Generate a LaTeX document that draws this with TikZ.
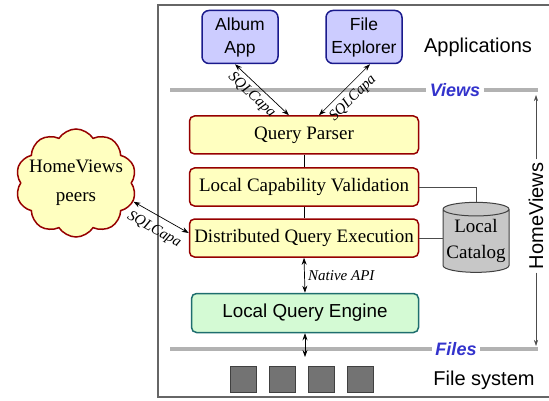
\documentclass[tikz,border=0pt]{standalone}
\usepackage{fontspec}
\setmainfont{Liberation Serif}
\setsansfont{Liberation Sans}
\usetikzlibrary{arrows.meta,shapes.symbols,shapes.geometric}

\definecolor{appfill}{RGB}{204,204,255}
\definecolor{appline}{RGB}{26,26,140}
\definecolor{qfill}{RGB}{255,255,192}
\definecolor{qline}{RGB}{150,0,0}
\definecolor{efill}{RGB}{212,250,212}
\definecolor{eline}{RGB}{30,110,110}
\definecolor{layerblue}{RGB}{51,51,204}

\begin{document}
\begin{tikzpicture}[x=1pt,y=-1pt,
	appbox/.style={draw=appline,fill=appfill,line width=1.5pt,rounded corners=7pt,minimum width=76pt,minimum height=53pt,inner sep=0pt,align=center,font=\sffamily\fontsize{17.5}{23}\selectfont},
	qbox/.style={draw=qline,fill=qfill,line width=1.5pt,rounded corners=5pt,minimum width=229pt,minimum height=38pt,inner sep=0pt,font=\fontsize{19}{22}\selectfont},
	layer/.style={draw=black!30,line width=4pt},
	layername/.style={text=layerblue,font=\sffamily\bfseries\itshape\fontsize{18}{20}\selectfont},
	side/.style={font=\sffamily\fontsize{20}{22}\selectfont},
	api/.style={font=\itshape\fontsize{15}{17}\selectfont},
	link/.style={{Stealth[length=7pt,width=5pt]}-{Stealth[length=7pt,width=5pt]},line width=0.7pt}]
			\useasboundingbox (0,0) rectangle (549,401);
			\draw[black!60,line width=1.3pt] (549,5) -- (158,5) -- (158,397) -- (549,397);
			% applications
			\node[appbox] (album) at (240,37) {Album\\App};
			\node[appbox] (explorer) at (364,37) {File\\Explorer};
			\node[side] (apps) at (478,47) {Applications};
			% views layer
			\node[layername] (views) at (455,90) {Views};
			\draw[layer] (170,90) -- (views.west);
			\draw[layer] (views.east) -- (538,90);
			% query stack
			\node[qbox] (parser) at (304,135) {Query Parser};
			\node[qbox] (validation) at (304,187) {Local Capability Validation};
			\node[qbox] (execution) at (304,238) {Distributed Query Execution};
			\draw[line width=0.8pt] (parser) -- (validation);
			\draw[line width=0.8pt] (validation) -- (execution);
			\node[cylinder,shape border rotate=90,aspect=0.23,draw=black!75,fill=black!22,line width=1pt,minimum width=66pt,minimum height=70pt,inner sep=0pt,align=center,font=\fontsize{19}{26}\selectfont] (catalog) at (476,241) {Local\\Catalog};
			\draw[black!70,line width=0.8pt] (validation.east) -| (catalog.north);
			\draw[black!70,line width=0.8pt] (execution.east) -- (catalog.west |- execution.east);
			\draw[link] ([xshift=-5pt]album.south) -- node[api,sloped,below=1pt,pos=0.45]{SQLCapa} ([xshift=-15pt]parser.north);
			\draw[link] ([xshift=15pt]parser.north) -- node[api,sloped,below=2pt,pos=0.5]{SQLCapa} ([xshift=6pt]explorer.south);
			% peers
			\node[cloud,cloud puffs=10,cloud puff arc=115,aspect=1.15,draw=qline,fill=qfill,line width=1.5pt,minimum width=121pt,minimum height=108pt,inner sep=0pt] (peers) at (76,183) {};
			\node[align=center,font=\fontsize{19}{29}\selectfont] (peerstext) at (peers.center) {HomeViews\\peers};
			\draw[link] (peers.-18) -- node[api,sloped,below=4pt]{SQLCapa} ([yshift=5pt]execution.west);
			% engine
			\node[qbox,draw=eline,fill=efill,font=\sffamily\fontsize{18.8}{20}\selectfont,minimum height=39pt,minimum width=227pt] (engine) at (305,313) {Local Query Engine};
			\draw[link] (execution.south) -- node[api,right]{Native API} (engine.north);
			% files layer
			\node[layername] (files) at (456,349) {Files};
			\draw[layer] (170,349) -- (files.west);
			\draw[layer] (files.east) -- (538,349);
			\coordinate (fsdown) at (305,357);
			\draw[link] (engine.south) -- (fsdown);
			\foreach \i in {0,1,2,3}
				\node[draw=black!75,fill=black!55,line width=0.8pt,minimum size=26pt,inner sep=0pt] (file\i) at (243+39*\i,379) {};
			\node[side] (fs) at (484,380) {File system};
			% homeviews range
			\node[side,rotate=90] (hv) at (536,216) {HomeViews};
			\coordinate (hvtop) at (536,95);
			\coordinate (hvbot) at (536,346);
			\draw[black!70,line width=0.6pt,-{Stealth[length=6pt,width=4pt]}] (hv.east) -- (hvtop);
			\draw[black!70,line width=0.6pt,-{Stealth[length=6pt,width=4pt]}] (hv.west) -- (hvbot);
		\end{tikzpicture}
\end{document}
